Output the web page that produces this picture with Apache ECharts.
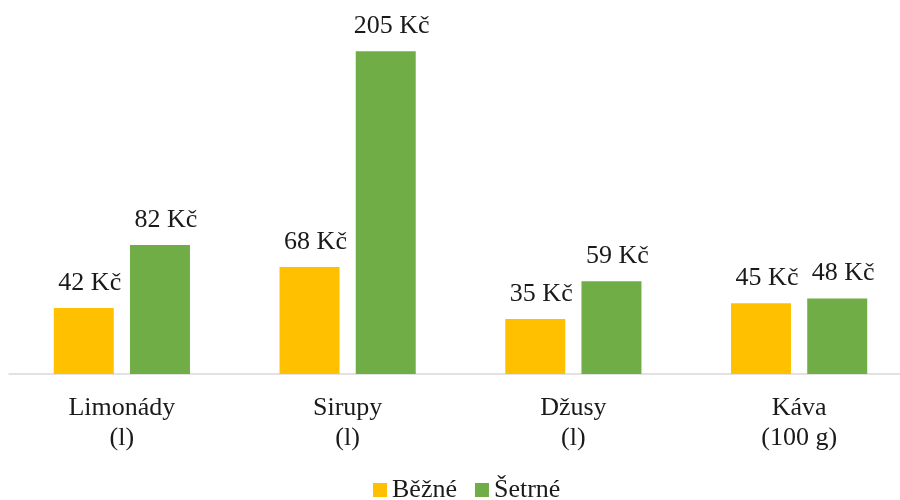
<!DOCTYPE html>
<html>
<head>
<meta charset="utf-8">
<script src="https://cdn.jsdelivr.net/npm/echarts@6/dist/echarts.min.js"></script>
<style>
  html, body { margin: 0; padding: 0; background: #fff; }
  #chart { width: 900px; height: 500px; }
</style>
</head>
<body>
<div id="chart"></div>
<script>
var categories = ['Limonády\n(l)', 'Sirupy\n(l)', 'Džusy\n(l)', 'Káva\n(100 g)'];
var seriesNames = ['Běžné', 'Šetrné'];
var bezne = [42, 68, 35, 45];
var setrne = [82, 205, 59, 48];

var chart = echarts.init(document.getElementById('chart'));
var font = '"Liberation Serif", "Times New Roman", serif';
var textColor = '#1a1a1a';

var labelOpt = {
    show: true,
    position: 'top',
    distance: 12,
    offset: [6, 0],
    formatter: '{c} Kč',
    fontFamily: font,
    fontSize: 26,
    color: textColor
};

chart.setOption({
    animation: false,
    textStyle: { fontFamily: font },
    color: ['#FFC000', '#70AD47'],
    legend: {
        data: seriesNames,
        bottom: -8,
        left: 368,
        itemWidth: 14,
        itemHeight: 14,
        itemGap: 18,
        icon: 'rect',
        textStyle: { fontFamily: font, fontSize: 26, color: textColor }
    },
    grid: {
        left: 9,
        right: -12,
        top: 12,
        bottom: 126,
        outerBoundsMode: 'none'
    },
    xAxis: {
        type: 'category',
        data: categories,
        axisLine: { lineStyle: { color: '#D9D9D9', width: 1.5 } },
        axisTick: { show: false },
        axisLabel: {
            fontFamily: font,
            fontSize: 26,
            lineHeight: 30,
            color: textColor,
            margin: 19
        }
    },
    yAxis: {
        type: 'value',
        min: 0,
        max: 230,
        show: false,
        splitLine: { show: false }
    },
    series: [
        {
            name: seriesNames[0],
            type: 'bar',
            data: bezne,
            barWidth: 60,
            barGap: '27%',
            label: labelOpt
        },
        {
            name: seriesNames[1],
            type: 'bar',
            data: setrne,
            barWidth: 60,
            label: labelOpt
        }
    ]
});
</script>
</body>
</html>
